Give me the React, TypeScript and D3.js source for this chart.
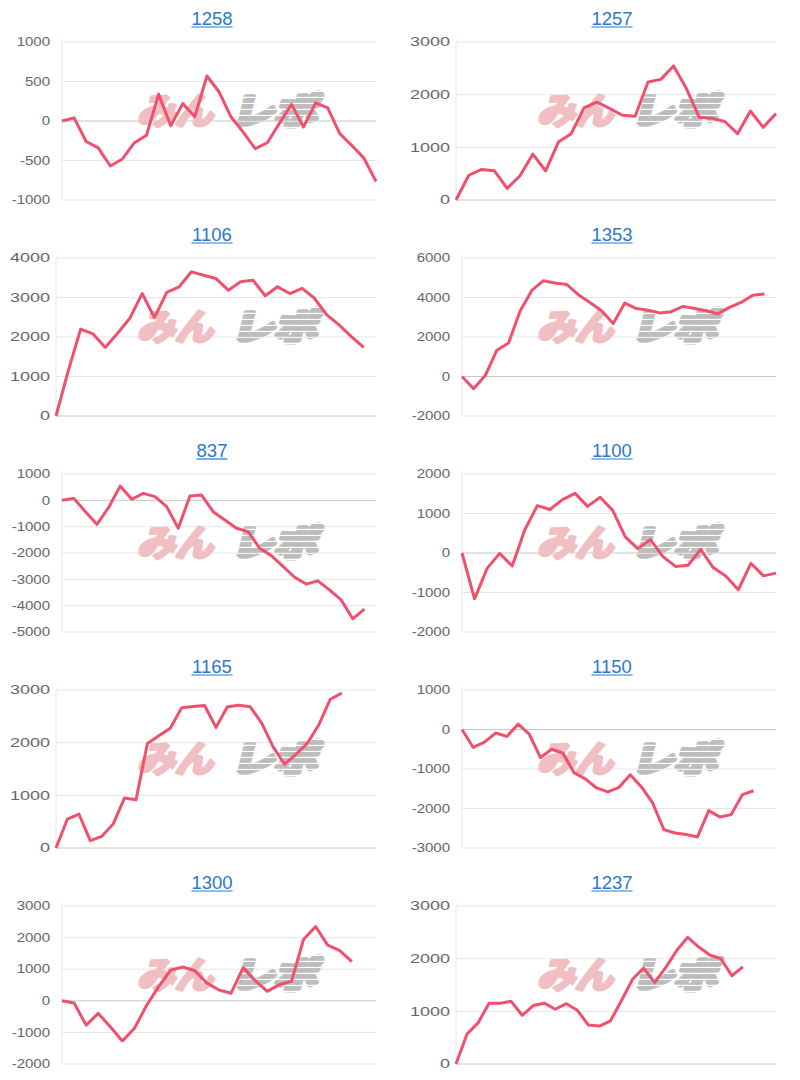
import React from "react";
import * as d3 from "d3";

const titles = ["1258", "1257", "1106", "1353", "837", "1100", "1165", "1150", "1300", "1237"];

const s1258 = [0, 40, -260, -340, -570, -480, -275, -180, 340, -60, 220, 55, 570, 370, 50, -140, -350, -275, -30, 210, -75, 230, 165, -160, -310, -470, -765];
const s1257 = [0, 470, 580, 555, 220, 460, 870, 555, 1100, 1260, 1750, 1860, 1740, 1610, 1590, 2240, 2290, 2545, 2115, 1570, 1550, 1490, 1260, 1690, 1380, 1640];
const s1106 = [0, 1150, 2200, 2080, 1735, 2095, 2475, 3100, 2490, 3130, 3270, 3650, 3565, 3480, 3185, 3400, 3440, 3045, 3270, 3100, 3230, 2980, 2560, 2305, 2010, 1735];
const s1353 = [0, -620, 50, 1330, 1700, 3320, 4360, 4850, 4730, 4660, 4140, 3750, 3330, 2680, 3720, 3440, 3350, 3220, 3280, 3550, 3440, 3330, 3170, 3500, 3750, 4110, 4180];
const s837 = [0, 75, -420, -910, -280, 540, 40, 265, 140, -240, -1060, 165, 200, -430, -745, -1060, -1190, -1820, -2100, -2510, -2920, -3180, -3060, -3400, -3780, -4500, -4130];
const s1100 = [0, -1160, -390, -10, -330, 590, 1200, 1100, 1350, 1510, 1180, 1410, 1080, 410, 110, 340, -90, -340, -310, 90, -370, -580, -930, -260, -580, -510];
const s1165 = [0, 550, 645, 140, 220, 455, 950, 915, 1985, 2130, 2275, 2665, 2685, 2705, 2290, 2680, 2710, 2680, 2370, 1920, 1590, 1780, 1990, 2340, 2825, 2940];
const s1150 = [0, -455, -320, -90, -175, 135, -120, -710, -500, -600, -1100, -1250, -1480, -1580, -1465, -1145, -1455, -1860, -2535, -2620, -2660, -2720, -2055, -2215, -2155, -1650, -1550];
const s1300 = [0, -70, -770, -400, -820, -1270, -870, -150, 450, 970, 1070, 950, 560, 340, 240, 1050, 635, 300, 510, 615, 1940, 2350, 1760, 1590, 1240];
const s1237 = [0, 570, 780, 1155, 1155, 1190, 925, 1110, 1155, 1040, 1145, 1020, 740, 720, 820, 1205, 1610, 1820, 1550, 1830, 2155, 2405, 2220, 2070, 2000, 1675, 1845];

const dayCounts = [27, 26, 27, 28, 28, 26, 29, 29, 27, 30];

const t1258 = [-1000, -500, 0, 500, 1000];
const t1257 = [0, 1000, 2000, 3000];
const t1106 = [0, 1000, 2000, 3000, 4000];
const t1353 = [-2000, 0, 2000, 4000, 6000];
const t837 = [-5000, -4000, -3000, -2000, -1000, 0, 1000];
const t1100 = [-2000, -1000, 0, 1000, 2000];
const t1165 = [0, 1000, 2000, 3000];
const t1150 = [-3000, -2000, -1000, 0, 1000];
const t1300 = [-2000, -1000, 0, 1000, 2000, 3000];
const t1237 = [0, 1000, 2000, 3000];

const seriesList = [s1258, s1257, s1106, s1353, s837, s1100, s1165, s1150, s1300, s1237];
const tickList = [t1258, t1257, t1106, t1353, t837, t1100, t1165, t1150, t1300, t1237];

const LINE_COLOR = "#f0506e";
const TITLE_COLOR = "#2b78c8";
const FONT = "'Liberation Sans', Arial, sans-serif";
const CJK = "'Noto Sans CJK JP', sans-serif";

function MiniChart({ i }: { i: number }) {
  const col = i % 2;
  const row = Math.floor(i / 2);
  const x0 = col * 400;
  const y0 = row * 216;
  const vals = seriesList[i];
  const ticks = tickList[i];
  const labels = d3.range(1, dayCounts[i] + 1).map(String);
  const hasNeg = ticks[0] < 0;
  const left = x0 + (hasNeg ? 62 : 56);
  const right = x0 + 376;
  const top = y0 + 42;
  const bottom = y0 + 200;
  const x = d3.scalePoint<string>().domain(labels).range([left, right]);
  const y = d3.scaleLinear().domain([ticks[0], ticks[ticks.length - 1]]).range([bottom, top]);
  const line = d3
    .line<number>()
    .x((_, j) => x(labels[j]) as number)
    .y((d) => y(d));
  const sx = hasNeg ? 1.25 : 1.5;
  const title = titles[i];
  const tfs = 18.5;
  const tw = title.length * 0.556 * tfs;
  const tcx = x0 + 212;
  const tby = y0 + 25;
  const clipId = "stripe" + i;
  const bands = d3.range(y0 + 86, y0 + 132, 6);
  return (
    <g>
      <defs>
        <clipPath id={clipId}>
          {bands.map((b) => (
            <rect key={b} x={x0 + 220} y={b} width={130} height={4.8} />
          ))}
        </clipPath>
      </defs>
      <text x={tcx} y={tby} textAnchor="middle" fontSize={tfs} fill={TITLE_COLOR} fontFamily={FONT}>
        {title}
      </text>
      <line x1={tcx - tw / 2} x2={tcx + tw / 2} y1={tby + 2} y2={tby + 2} stroke={TITLE_COLOR} strokeWidth={1.2} />
      {ticks.map((t) => (
        <line
          key={"g" + t}
          x1={left}
          x2={right}
          y1={y(t)}
          y2={y(t)}
          stroke={t === 0 ? "#c6c6c6" : "#e6e6e6"}
          strokeWidth={1}
        />
      ))}
      <line x1={left} x2={left} y1={top} y2={bottom} stroke="#e6e6e6" strokeWidth={1} />
      {ticks.map((t) => (
        <text
          key={"t" + t}
          transform={`translate(${x0 + 50},${y(t)}) scale(${sx},1)`}
          textAnchor="end"
          dy="0.35em"
          fontSize={12}
          fill="#666"
          fontFamily={FONT}
        >
          {t}
        </text>
      ))}
      <text
        transform={`translate(${x0 + 137},${y0 + 124}) skewX(-14)`}
        fontSize={36}
        fontWeight={700}
        fill="#efbfc2"
        stroke="#efbfc2"
        strokeWidth={3.5}
        strokeLinejoin="round"
        fontFamily={CJK}
        textLength={76}
        lengthAdjust="spacingAndGlyphs"
      >
        みん
      </text>
      <g clipPath={`url(#${clipId})`}>
        <text
          transform={`translate(${x0 + 231},${y0 + 124}) skewX(-14)`}
          fontSize={36}
          fontWeight={700}
          fill="#bdbdbd"
          stroke="#bdbdbd"
          strokeWidth={5}
          strokeLinejoin="round"
          fontFamily={CJK}
          textLength={86}
          lengthAdjust="spacingAndGlyphs"
        >
          レポ
        </text>
      </g>
      <path d={line(vals) || ""} fill="none" stroke={LINE_COLOR} strokeWidth={3} strokeLinejoin="round" />
    </g>
  );
}

export default function App() {
  return (
    <svg
      width={800}
      height={1080}
      style={{ position: "absolute", left: 0, top: 0, display: "block", background: "#fff" }}
    >
      <rect width={800} height={1080} fill="#fff" />
      {titles.map((_, i) => (
        <MiniChart key={i} i={i} />
      ))}
    </svg>
  );
}
